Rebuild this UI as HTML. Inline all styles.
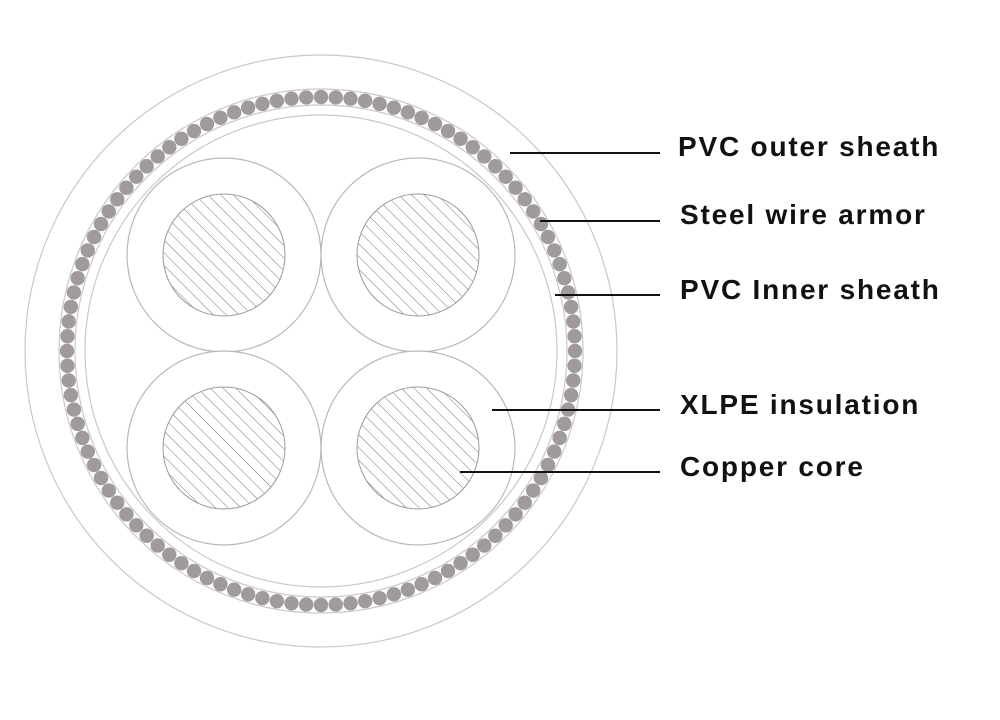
<!DOCTYPE html>
<html><head><meta charset="utf-8"><style>
html,body{margin:0;padding:0;background:#fff;width:1000px;height:720px;overflow:hidden}
svg{display:block}
text{font-family:"Liberation Sans",sans-serif;font-weight:bold;font-size:28px;fill:#111;letter-spacing:1.8px}
</style></head><body>
<svg id="s" width="1000" height="720" viewBox="0 0 1000 720">
<defs>
<pattern id="h" patternUnits="userSpaceOnUse" width="9" height="9" patternTransform="rotate(-45)">
<line x1="0" y1="0" x2="0" y2="9" stroke="#777" stroke-width="1"/>
</pattern>
</defs>
<g fill="none" stroke="#c8c8c8" stroke-width="1.2">
<circle cx="321" cy="351" r="296"/>
<circle cx="321" cy="351" r="262"/>
<circle cx="321" cy="351" r="246"/>
<circle cx="321" cy="351" r="236"/>
</g>
<g id="beads" fill="#a09a9a"></g>
<g stroke="#b8b8b8" stroke-width="1.2" fill="#fff">
<circle cx="224" cy="255" r="97"/>
<circle cx="418" cy="255" r="97"/>
<circle cx="224" cy="448" r="97"/>
<circle cx="418" cy="448" r="97"/>
</g>
<g stroke="#999" stroke-width="1" fill="url(#h)">
<circle cx="224" cy="255" r="61"/>
<circle cx="418" cy="255" r="61"/>
<circle cx="224" cy="448" r="61"/>
<circle cx="418" cy="448" r="61"/>
</g>
<g stroke="#111" stroke-width="2">
<line x1="510" y1="153" x2="660" y2="153"/>
<line x1="540" y1="221" x2="660" y2="221"/>
<line x1="555" y1="295" x2="660" y2="295"/>
<line x1="492" y1="410" x2="660" y2="410"/>
<line x1="460" y1="472" x2="660" y2="472"/>
</g>
<text x="678" y="156">PVC outer sheath</text>
<text x="680" y="224">Steel wire armor</text>
<text x="680" y="299">PVC Inner sheath</text>
<text x="680" y="414">XLPE insulation</text>
<text x="680" y="476">Copper core</text>
</svg>
<script>
var g=document.getElementById('beads'),n=108,s='';
for(var i=0;i<n;i++){var a=2*Math.PI*i/n;s+='<circle cx="'+(321+254*Math.cos(a)).toFixed(2)+'" cy="'+(351+254*Math.sin(a)).toFixed(2)+'" r="7.2"/>';}
g.innerHTML=s;
</script>
</body></html>
